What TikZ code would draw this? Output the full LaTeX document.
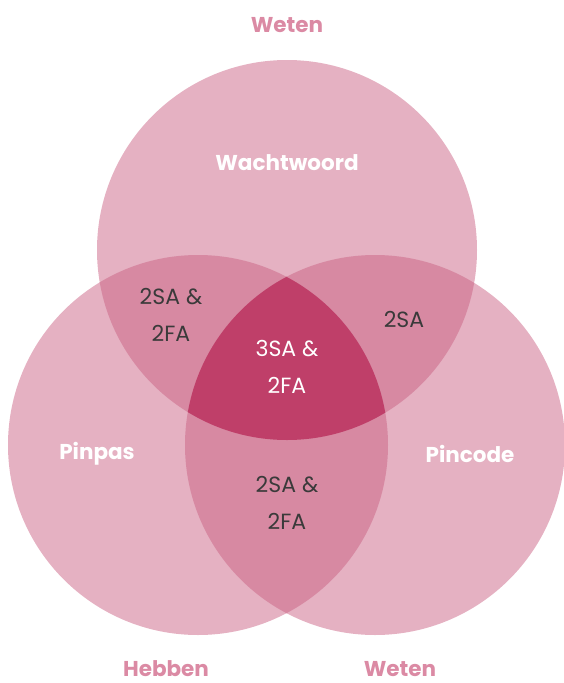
\documentclass[tikz,border=0pt]{standalone}
\usepackage{fontspec}
\setmainfont{Poppins}
\usetikzlibrary{positioning}

\definecolor{oneset}{HTML}{E5B1C2}
\definecolor{twoset}{HTML}{D789A2}
\definecolor{threeset}{HTML}{BF3F69}
\definecolor{headpink}{HTML}{DB8AA4}
\definecolor{darktext}{HTML}{3A3A3A}

\begin{document}
\begin{tikzpicture}[x=1pt, y=-1pt,
    setname/.style={font=\fontsize{21.5}{24}\selectfont\bfseries, text=white},
    factor/.style={font=\fontsize{21.5}{24}\selectfont\bfseries, text=headpink, inner sep=1pt},
    overlap/.style={font=\fontsize{22}{37}\selectfont, text=darktext, align=center}]

        \useasboundingbox (0,0) rectangle (563,683);

        % circles
        \coordinate (T) at (287,250);
        \coordinate (L) at (198,445);
        \coordinate (R) at (375,445);

        \fill[oneset] (T) circle (190);
        \fill[oneset] (L) circle (190);
        \fill[oneset] (R) circle (190);

        \begin{scope}
            \clip (T) circle (190);
            \fill[twoset] (L) circle (190);
            \fill[twoset] (R) circle (190);
        \end{scope}
        \begin{scope}
            \clip (L) circle (190);
            \fill[twoset] (R) circle (190);
        \end{scope}
        \begin{scope}
            \clip (T) circle (190);
            \clip (L) circle (190);
            \fill[threeset] (R) circle (190);
        \end{scope}

        % labels
        \node[factor] (wtop) at (287,25) {Weten};
        \node[factor] (hebben) at (166,669) {Hebben};
        \node[factor] (wright) at (400,669) {Weten};

        \node[setname] (wacht) at (287,163) {Wachtwoord};
        \node[setname] (pinpas) at (97,454) {Pinpas};
        \node[setname] (pincode) at (470,454) {Pincode};

        \node[overlap] (tl) at (171,315) {2SA \&\\2FA};
        \node[overlap] (tr) at (404,319) {2SA};
        \node[overlap] (lr) at (287,503) {2SA \&\\2FA};
        \node[overlap, text=white] (mid) at (287,367) {3SA \&\\2FA};

    \end{tikzpicture}
\end{document}
